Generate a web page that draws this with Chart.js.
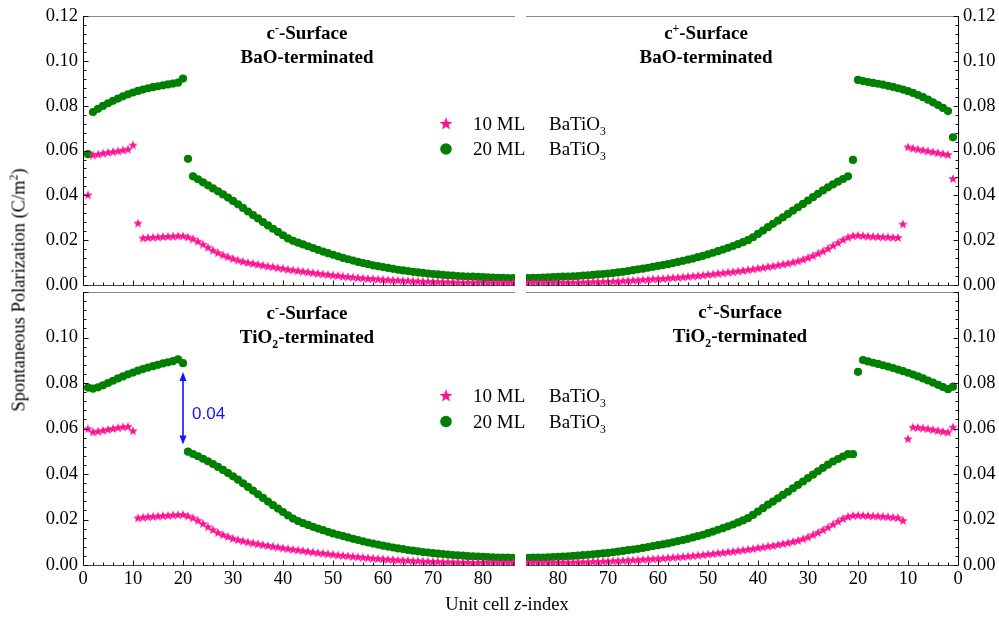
<!DOCTYPE html>
<html>
<head>
<meta charset="utf-8">
<script src="https://cdn.jsdelivr.net/npm/chart.js@4.4.1/dist/chart.umd.min.js"></script>
<style>
  body { margin: 0; background: #fff; }
  #wrap { position: relative; width: 999px; height: 619px; overflow: hidden;
          font-family: "Liberation Serif", "Times New Roman", serif; color: #000; }
  #wrap canvas { position: absolute; left: 0; top: 0; }
  .txt { position: absolute; white-space: nowrap; z-index: 5; }
  .title { width: 300px; text-align: center; font-weight: bold; font-size: 19px; line-height: 24px; }
  .leg { font-size: 19px; line-height: 20px; }
  sup, sub { font-size: 62%; line-height: 0; position: relative; vertical-align: baseline; }
  sup { top: -0.6em; }
  sub { top: 0.45em; }
  .ylab { font-size: 18.5px; left: 19px; top: 290px; transform: translate(-50%, -50%) rotate(-90deg); }
  .xlab { font-size: 18.5px; left: 507px; top: 604px; transform: translate(-50%, -50%); }
  .note { font-family: "Liberation Sans", Arial, sans-serif; font-size: 17px; color: #1414ff;
          left: 192px; top: 404px; line-height: 20px; }
</style>
</head>
<body>
<div id="wrap">
  <canvas id="tl" width="999" height="619"></canvas>
  <canvas id="tr" width="999" height="619"></canvas>
  <canvas id="bl" width="999" height="619"></canvas>
  <canvas id="br" width="999" height="619"></canvas>

  <div class="txt title" style="left:157px; top:21px;">c<sup>-</sup>-Surface<br>BaO-terminated</div>
  <div class="txt title" style="left:556px; top:21px;">c<sup>+</sup>-Surface<br>BaO-terminated</div>
  <div class="txt title" style="left:157px; top:301px;">c<sup>-</sup>-Surface<br>TiO<sub>2</sub>-terminated</div>
  <div class="txt title" style="left:590px; top:300px;">c<sup>+</sup>-Surface<br>TiO<sub>2</sub>-terminated</div>

  <div class="txt leg" style="left:473px; top:114px;">10 ML</div>
  <div class="txt leg" style="left:549px; top:114px;">BaTiO<sub>3</sub></div>
  <div class="txt leg" style="left:473px; top:139px;">20 ML</div>
  <div class="txt leg" style="left:549px; top:139px;">BaTiO<sub>3</sub></div>
  <div class="txt leg" style="left:473px; top:386px;">10 ML</div>
  <div class="txt leg" style="left:549px; top:386px;">BaTiO<sub>3</sub></div>
  <div class="txt leg" style="left:473px; top:412px;">20 ML</div>
  <div class="txt leg" style="left:549px; top:412px;">BaTiO<sub>3</sub></div>

  <div class="txt note">0.04</div>
  <div class="txt ylab">Spontaneous Polarization (C/m<sup>2</sup>)</div>
  <div class="txt xlab">Unit cell <i>z</i>-index</div>
</div>

<script>
// unit cell index along z
const zIndex = [
   1,  2,  3,  4,  5,  6,  7,  8,  9, 10, 11, 12, 13, 14, 15, 16, 17, 18, 19, 20,
  21, 22, 23, 24, 25, 26, 27, 28, 29, 30, 31, 32, 33, 34, 35, 36, 37, 38, 39, 40,
  41, 42, 43, 44, 45, 46, 47, 48, 49, 50, 51, 52, 53, 54, 55, 56, 57, 58, 59, 60,
  61, 62, 63, 64, 65, 66, 67, 68, 69, 70, 71, 72, 73, 74, 75, 76, 77, 78, 79, 80,
  81, 82, 83, 84, 85, 86
];

const xTicks = [0, 10, 20, 30, 40, 50, 60, 70, 80];
const yTicks = [0, 0.02, 0.04, 0.06, 0.08, 0.10, 0.12];

// c- surface, BaO terminated
const cMinusBaO10 = [
  0.0400, 0.0578, 0.0582, 0.0586, 0.0590, 0.0593, 0.0596, 0.0600, 0.0604, 0.0623,
  0.0274, 0.0208, 0.0210, 0.0211, 0.0212, 0.0214, 0.0215, 0.0216, 0.0217, 0.0217,
  0.0212, 0.0204, 0.0193, 0.0180, 0.0166, 0.0153, 0.0142, 0.0132, 0.0124, 0.0116,
  0.0109, 0.0103, 0.0098, 0.0094, 0.0090, 0.0086, 0.0082, 0.0079, 0.0075, 0.0072,
  0.0068, 0.0065, 0.0062, 0.0059, 0.0056, 0.0053, 0.0050, 0.0047, 0.0045, 0.0042,
  0.0040, 0.0037, 0.0035, 0.0033, 0.0031, 0.0029, 0.0027, 0.0026, 0.0024, 0.0023,
  0.0021, 0.0020, 0.0019, 0.0018, 0.0017, 0.0016, 0.0015, 0.0014, 0.0014, 0.0013,
  0.0012, 0.0012, 0.0011, 0.0011, 0.0010, 0.0010, 0.0010, 0.0009, 0.0009, 0.0009,
  0.0009, 0.0008, 0.0008, 0.0008, 0.0008, 0.0008
];
const cMinusBaO20 = [
  0.0584, 0.0772, 0.0786, 0.0799, 0.0811, 0.0822, 0.0832, 0.0842, 0.0851, 0.0859,
  0.0866, 0.0872, 0.0878, 0.0883, 0.0887, 0.0891, 0.0895, 0.0899, 0.0903, 0.0921,
  0.0563, 0.0485, 0.0472, 0.0458, 0.0445, 0.0431, 0.0418, 0.0404, 0.0390, 0.0375,
  0.0360, 0.0344, 0.0328, 0.0312, 0.0297, 0.0281, 0.0266, 0.0251, 0.0237, 0.0222,
  0.0208, 0.0197, 0.0189, 0.0181, 0.0173, 0.0165, 0.0157, 0.0149, 0.0142, 0.0135,
  0.0128, 0.0121, 0.0115, 0.0109, 0.0103, 0.0098, 0.0093, 0.0088, 0.0084, 0.0080,
  0.0076, 0.0072, 0.0068, 0.0065, 0.0062, 0.0059, 0.0056, 0.0054, 0.0051, 0.0049,
  0.0047, 0.0045, 0.0043, 0.0042, 0.0040, 0.0039, 0.0038, 0.0037, 0.0036, 0.0035,
  0.0034, 0.0033, 0.0032, 0.0032, 0.0031, 0.0031
];

// c+ surface, BaO terminated
const cPlusBaO10 = [
  0.0473, 0.0580, 0.0584, 0.0588, 0.0592, 0.0596, 0.0600, 0.0604, 0.0608, 0.0614,
  0.0270, 0.0210, 0.0211, 0.0212, 0.0213, 0.0214, 0.0215, 0.0216, 0.0218, 0.0220,
  0.0218, 0.0211, 0.0200, 0.0187, 0.0174, 0.0161, 0.0149, 0.0139, 0.0129, 0.0120,
  0.0112, 0.0105, 0.0100, 0.0095, 0.0091, 0.0087, 0.0083, 0.0080, 0.0076, 0.0073,
  0.0069, 0.0066, 0.0063, 0.0060, 0.0057, 0.0055, 0.0052, 0.0050, 0.0047, 0.0045,
  0.0042, 0.0040, 0.0038, 0.0036, 0.0034, 0.0032, 0.0031, 0.0029, 0.0027, 0.0026,
  0.0025, 0.0023, 0.0022, 0.0020, 0.0019, 0.0018, 0.0016, 0.0015, 0.0014, 0.0014,
  0.0013, 0.0012, 0.0012, 0.0011, 0.0011, 0.0010, 0.0010, 0.0010, 0.0009, 0.0009,
  0.0009, 0.0009, 0.0008, 0.0008, 0.0008, 0.0008
];
const cPlusBaO20 = [
  0.0659, 0.0776, 0.0790, 0.0803, 0.0815, 0.0827, 0.0838, 0.0848, 0.0857, 0.0865,
  0.0872, 0.0878, 0.0884, 0.0889, 0.0894, 0.0898, 0.0902, 0.0906, 0.0910, 0.0915,
  0.0558, 0.0485, 0.0473, 0.0461, 0.0449, 0.0436, 0.0422, 0.0407, 0.0392, 0.0377,
  0.0362, 0.0347, 0.0332, 0.0317, 0.0302, 0.0287, 0.0273, 0.0258, 0.0243, 0.0228,
  0.0213, 0.0200, 0.0191, 0.0182, 0.0174, 0.0166, 0.0158, 0.0151, 0.0144, 0.0137,
  0.0130, 0.0124, 0.0118, 0.0113, 0.0108, 0.0103, 0.0098, 0.0093, 0.0089, 0.0085,
  0.0081, 0.0077, 0.0073, 0.0070, 0.0066, 0.0062, 0.0059, 0.0056, 0.0053, 0.0051,
  0.0049, 0.0047, 0.0045, 0.0043, 0.0042, 0.0040, 0.0039, 0.0038, 0.0037, 0.0036,
  0.0035, 0.0034, 0.0033, 0.0032, 0.0032, 0.0031
];

// c- surface, TiO2 terminated
const cMinusTiO10 = [
  0.0597, 0.0583, 0.0586, 0.0590, 0.0594, 0.0598, 0.0602, 0.0605, 0.0607, 0.0588,
  0.0205, 0.0208, 0.0210, 0.0212, 0.0213, 0.0215, 0.0216, 0.0218, 0.0219, 0.0220,
  0.0214, 0.0205, 0.0194, 0.0180, 0.0166, 0.0153, 0.0141, 0.0131, 0.0123, 0.0115,
  0.0109, 0.0104, 0.0099, 0.0095, 0.0091, 0.0087, 0.0084, 0.0080, 0.0077, 0.0073,
  0.0070, 0.0067, 0.0064, 0.0061, 0.0058, 0.0055, 0.0052, 0.0050, 0.0047, 0.0045,
  0.0042, 0.0040, 0.0038, 0.0036, 0.0034, 0.0032, 0.0030, 0.0028, 0.0026, 0.0025,
  0.0023, 0.0022, 0.0020, 0.0019, 0.0018, 0.0017, 0.0016, 0.0015, 0.0014, 0.0013,
  0.0013, 0.0012, 0.0011, 0.0011, 0.0010, 0.0010, 0.0010, 0.0009, 0.0009, 0.0009,
  0.0009, 0.0008, 0.0008, 0.0008, 0.0008, 0.0008
];
const cMinusTiO20 = [
  0.0780, 0.0775, 0.0781, 0.0790, 0.0800, 0.0810, 0.0820, 0.0829, 0.0838, 0.0846,
  0.0854, 0.0861, 0.0868, 0.0874, 0.0880, 0.0886, 0.0891, 0.0896, 0.0904, 0.0887,
  0.0498, 0.0488, 0.0478, 0.0467, 0.0456, 0.0444, 0.0431, 0.0418, 0.0404, 0.0390,
  0.0375, 0.0359, 0.0343, 0.0327, 0.0311, 0.0295, 0.0279, 0.0263, 0.0248, 0.0233,
  0.0218, 0.0204, 0.0193, 0.0184, 0.0176, 0.0168, 0.0160, 0.0153, 0.0146, 0.0139,
  0.0133, 0.0127, 0.0121, 0.0115, 0.0110, 0.0104, 0.0099, 0.0094, 0.0090, 0.0085,
  0.0081, 0.0077, 0.0073, 0.0070, 0.0066, 0.0063, 0.0060, 0.0057, 0.0055, 0.0052,
  0.0050, 0.0048, 0.0046, 0.0044, 0.0042, 0.0041, 0.0039, 0.0038, 0.0037, 0.0036,
  0.0035, 0.0034, 0.0033, 0.0032, 0.0032, 0.0031
];

// c+ surface, TiO2 terminated
const cPlusTiO10 = [
  0.0604, 0.0582, 0.0585, 0.0589, 0.0593, 0.0597, 0.0600, 0.0603, 0.0604, 0.0553,
  0.0194, 0.0206, 0.0208, 0.0210, 0.0212, 0.0213, 0.0214, 0.0215, 0.0216, 0.0217,
  0.0216, 0.0211, 0.0202, 0.0190, 0.0177, 0.0164, 0.0152, 0.0141, 0.0131, 0.0121,
  0.0113, 0.0106, 0.0101, 0.0096, 0.0092, 0.0088, 0.0084, 0.0081, 0.0077, 0.0074,
  0.0070, 0.0067, 0.0064, 0.0061, 0.0058, 0.0056, 0.0053, 0.0051, 0.0048, 0.0046,
  0.0043, 0.0041, 0.0039, 0.0037, 0.0035, 0.0033, 0.0032, 0.0030, 0.0028, 0.0027,
  0.0025, 0.0024, 0.0023, 0.0021, 0.0020, 0.0019, 0.0018, 0.0017, 0.0016, 0.0015,
  0.0014, 0.0013, 0.0013, 0.0012, 0.0011, 0.0011, 0.0010, 0.0010, 0.0010, 0.0009,
  0.0009, 0.0009, 0.0009, 0.0008, 0.0008, 0.0008
];
const cPlusTiO20 = [
  0.0784, 0.0773, 0.0782, 0.0792, 0.0802, 0.0811, 0.0820, 0.0829, 0.0837, 0.0845,
  0.0852, 0.0859, 0.0866, 0.0872, 0.0878, 0.0884, 0.0889, 0.0895, 0.0901, 0.0849,
  0.0487, 0.0487, 0.0477, 0.0466, 0.0455, 0.0441, 0.0427, 0.0412, 0.0397, 0.0382,
  0.0367, 0.0352, 0.0337, 0.0322, 0.0308, 0.0293, 0.0279, 0.0265, 0.0250, 0.0235,
  0.0220, 0.0206, 0.0196, 0.0187, 0.0178, 0.0170, 0.0162, 0.0155, 0.0147, 0.0140,
  0.0133, 0.0127, 0.0121, 0.0115, 0.0110, 0.0105, 0.0100, 0.0095, 0.0091, 0.0087,
  0.0083, 0.0079, 0.0075, 0.0071, 0.0068, 0.0065, 0.0062, 0.0059, 0.0056, 0.0053,
  0.0051, 0.0049, 0.0047, 0.0045, 0.0043, 0.0041, 0.0040, 0.0038, 0.0037, 0.0036,
  0.0035, 0.0034, 0.0033, 0.0032, 0.0032, 0.0031
];

// the 0.04 gap marked on the c-/TiO2 panel
const gapArrow = { x: 20, from: 0.0848, to: 0.0530 };

const PINK = '#ff1493';
const GREEN = '#008000';
const X_MAX = 86.4;

function makeStar(r, color) {
    const s = Math.ceil(r * 2) + 2;
    const c = document.createElement('canvas');
    c.width = s; c.height = s;
    const g = c.getContext('2d');
    g.fillStyle = color;
    g.beginPath();
    for (let i = 0; i < 10; i++) {
        const rr = i % 2 ? r * 0.42 : r;
        const a = -Math.PI / 2 + i * Math.PI / 5;
        g.lineTo(s / 2 + rr * Math.cos(a), s / 2 + rr * Math.sin(a));
    }
    g.closePath();
    g.fill();
    return c;
}

const starPoint = makeStar(5, PINK);
const starLegend = makeStar(6.8, PINK);

const panels = [
    { id: 'tl', side: 'left', reverse: false, xLabels: false, hideTop: false,
      pad: { left: 33, top: 13, right: 484, bottom: 334 },
      s10: cMinusBaO10, s20: cMinusBaO20, legend: { x: 446, y1: 124, y2: 149 } },
    { id: 'tr', side: 'right', reverse: true, xLabels: false, hideTop: false,
      pad: { left: 526, top: 13, right: 0, bottom: 334 },
      s10: cPlusBaO10, s20: cPlusBaO20 },
    { id: 'bl', side: 'left', reverse: false, xLabels: true, hideTop: true,
      pad: { left: 33, top: 292, right: 484, bottom: 24 },
      s10: cMinusTiO10, s20: cMinusTiO20, legend: { x: 446, y1: 396, y2: 421.5 }, arrow: gapArrow },
    { id: 'br', side: 'right', reverse: true, xLabels: true, hideTop: true,
      pad: { left: 526, top: 292, right: 0, bottom: 24 },
      s10: cPlusTiO10, s20: cPlusTiO20 }
];

const framePlugin = {
    id: 'frame',
    afterDatasetsDraw(chart, args, opts) {
        const { ctx, chartArea: a, scales: { x, y } } = chart;
        const p = opts.panel;
        const crisp = v => Math.round(v) + 0.5;
        const line = (x1, y1, x2, y2) => {
            ctx.beginPath(); ctx.moveTo(x1, y1); ctx.lineTo(x2, y2); ctx.stroke();
        };
        ctx.save();
        ctx.lineWidth = 1;

        const top = crisp(a.top), bot = crisp(a.bottom);
        ctx.strokeStyle = '#8a8a8a';
        line(a.left, top, a.right, top);
        ctx.strokeStyle = '#444';
        line(a.left, bot, a.right, bot);

        const sx = p.side === 'left' ? crisp(a.left) : crisp(a.right);
        ctx.strokeStyle = '#000';
        line(sx, a.top, sx, a.bottom);

        // inward ticks
        ctx.strokeStyle = '#111';
        for (let v = 0; v <= X_MAX; v += 2) {
            const px = crisp(x.getPixelForValue(v));
            line(px, bot, px, bot - (v % 10 === 0 ? 5 : 3));
        }
        const dir = p.side === 'left' ? 1 : -1;
        for (let i = 0; i <= 30; i++) {
            const py = crisp(y.getPixelForValue(i * 0.004));
            line(sx, py, sx + dir * (i % 5 === 0 ? 5 : 3), py);
        }

        if (p.arrow) {
            const ax = x.getPixelForValue(p.arrow.x);
            const y1 = y.getPixelForValue(p.arrow.from);
            const y2 = y.getPixelForValue(p.arrow.to);
            ctx.strokeStyle = '#1414ff';
            ctx.fillStyle = '#1414ff';
            ctx.lineWidth = 1.6;
            line(ax, y1 + 6, ax, y2 - 6);
            ctx.beginPath();
            ctx.moveTo(ax, y1); ctx.lineTo(ax - 3.5, y1 + 9); ctx.lineTo(ax + 3.5, y1 + 9);
            ctx.closePath(); ctx.fill();
            ctx.beginPath();
            ctx.moveTo(ax, y2); ctx.lineTo(ax - 3.5, y2 - 9); ctx.lineTo(ax + 3.5, y2 - 9);
            ctx.closePath(); ctx.fill();
        }

        if (p.legend) {
            const L = p.legend;
            ctx.drawImage(starLegend, L.x - starLegend.width / 2, L.y1 - starLegend.height / 2);
            ctx.fillStyle = GREEN;
            ctx.beginPath();
            ctx.arc(L.x, L.y2, 5.8, 0, Math.PI * 2);
            ctx.fill();
        }
        ctx.restore();
    }
};

const tickFont = { family: '"Liberation Serif", "Times New Roman", serif', size: 18.5 };

panels.forEach(p => {
    const toPoints = vals => zIndex.map((z, i) => ({ x: z, y: vals[i] }));

    new Chart(document.getElementById(p.id), {
        type: 'scatter',
        data: {
            datasets: [
                {
                    label: '10 ML BaTiO3',
                    data: toPoints(p.s10),
                    pointStyle: starPoint,
                    pointRadius: 5,
                    backgroundColor: PINK,
                    borderWidth: 0
                },
                {
                    label: '20 ML BaTiO3',
                    data: toPoints(p.s20),
                    pointStyle: 'circle',
                    pointRadius: 4.1,
                    backgroundColor: GREEN,
                    borderWidth: 0
                }
            ]
        },
        options: {
            responsive: false,
            animation: false,
            events: [],
            layout: { padding: p.pad },
            plugins: {
                legend: { display: false },
                tooltip: { enabled: false },
                frame: { panel: p }
            },
            scales: {
                x: {
                    type: 'linear',
                    min: 0,
                    max: X_MAX,
                    reverse: p.reverse,
                    position: 'bottom',
                    grid: { display: false, drawTicks: false },
                    border: { display: false },
                    afterBuildTicks: s => { s.ticks = xTicks.map(v => ({ value: v })); },
                    ticks: {
                        display: p.xLabels,
                        padding: 3,
                        color: '#000',
                        font: tickFont,
                        maxRotation: 0,
                        callback: v => String(v)
                    },
                    afterFit: s => { s.height = p.xLabels ? 30 : 0; }
                },
                y: {
                    type: 'linear',
                    min: 0,
                    max: 0.12,
                    position: p.side,
                    grid: { display: false, drawTicks: false },
                    border: { display: false },
                    afterBuildTicks: s => { s.ticks = yTicks.map(v => ({ value: v })); },
                    ticks: {
                        padding: 5,
                        color: '#000',
                        font: tickFont,
                        callback: v => (p.hideTop && v > 0.119) ? '' : v.toFixed(2)
                    },
                    afterFit: s => { s.width = p.side === 'left' ? 50 : 41; }
                }
            }
        },
        plugins: [framePlugin]
    });
});
</script>
</body>
</html>
